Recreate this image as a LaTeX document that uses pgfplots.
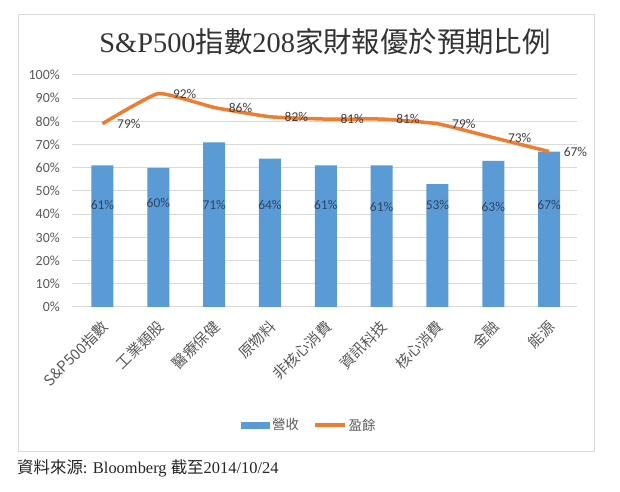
\documentclass[border=0pt]{standalone}
\usepackage{pgfplots}
\pgfplotsset{compat=1.18}
\usepackage{fontspec}
\setmainfont{Carlito}
\newfontfamily\cjk{Noto Sans CJK TC}
\newfontfamily\tms{Liberation Serif}
\definecolor{barblue}{HTML}{5B9BD5}
\definecolor{lineorange}{HTML}{ED7D31}
\definecolor{gridgray}{HTML}{D9D9D9}
\definecolor{txtgray}{HTML}{595959}
\definecolor{lbl}{HTML}{404040}
\definecolor{barlbl}{HTML}{2E4465}
\begin{document}
\begin{tikzpicture}
\fill[white] (0bp,0bp) rectangle (620bp,492bp);
\draw[gridgray, line width=1bp] (18bp,40bp) rectangle (594bp,477bp);
\node[text=black!80, inner sep=0] at (325bp,450bp) {\fontsize{28.5}{31}\selectfont\tms S\&P500\cjk 指數\tms 208\cjk 家財報優於預期比例};
\node[anchor=west, text=black!85, inner sep=0] at (17bp,24bp) {\fontsize{16.5}{18}\selectfont\cjk 資料來源\tms : Bloomberg \cjk 截至\tms 2014/10/24};
\begin{axis}[
  at={(72bp,185bp)}, anchor=south west,
  scale only axis, width=505bp, height=232bp,
  xmin=-0.546, xmax=8.5, ymin=0, ymax=100,
  clip=false,
  axis line style={draw=none},
  major tick length=0,
  ymajorgrids,
  grid style={gridgray, line width=1bp},
  ytick={0,10,...,100},
  yticklabel={\pgfmathprintnumber{\tick}\%},
  /pgf/number format/assume math mode=true,
  yticklabel style={inner sep=0, anchor=east, xshift=-12bp, font=\fontsize{14}{16}\selectfont, text=txtgray},
  xtick={0,...,8},
  xticklabels={S\&P500指數,工業類股,醫療保健,原物料,非核心消費,資訊科技,核心消費,金融,能源},
  xticklabel style={xshift=3bp, yshift=-17bp, rotate=45, anchor=east, inner sep=0, font=\fontsize{15}{17}\selectfont\cjk, text=txtgray},
  legend style={at={(0.470,-0.509)}, anchor=center, draw=none, fill=none, legend columns=2,
    font=\fontsize{13.5}{15}\selectfont\cjk, text=txtgray,
    /tikz/every even column/.append style={column sep=12bp}},
  legend cell align=left,
]
\addplot[ybar, bar width=22bp, fill=barblue, draw=none,
  legend image code/.code={\fill[barblue] (0bp,-3.5bp) rectangle (29bp,3.5bp);}]
  coordinates {(0,61) (1,60) (2,71) (3,64) (4,61) (5,61) (6,53) (7,63) (8,67)};
\addlegendentry{營收}
\addplot[lineorange, line width=3.5bp, line join=round, smooth, tension=0.25,
  nodes near coords={\pgfmathprintnumber{\pgfplotspointmeta}\%}, point meta=y,
  every node near coord/.append style={anchor=west, inner sep=0, xshift=13bp, text=lbl, font=\fontsize{13.5}{15}\selectfont},
  legend image code/.code={\draw[lineorange, line width=3.5bp] (0bp,0bp) -- (30bp,0bp);}]
  coordinates {(0,79) (1,92) (2,86) (3,82) (4,81) (5,81) (6,79) (7,73) (8,67)};
\addlegendentry{盈餘}
\addplot[draw=none, forget plot, nodes near coords, point meta=explicit symbolic,
  every node near coord/.append style={anchor=center, inner sep=0, text=barlbl, font=\fontsize{13.5}{15}\selectfont}]
  coordinates {(0,44) [61\%] (1,45) [60\%] (2,44) [71\%] (3,44) [64\%] (4,44) [61\%] (5,43) [61\%] (6,44) [53\%] (7,43) [63\%] (8,44) [67\%]};
\end{axis}
\end{tikzpicture}
\end{document}
